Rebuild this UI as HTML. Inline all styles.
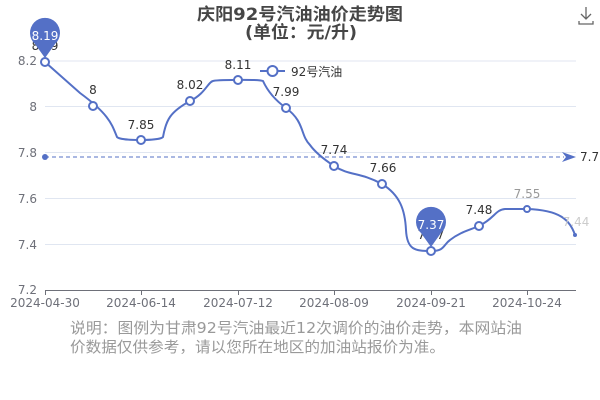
<!DOCTYPE html>
<html><head><meta charset="utf-8"><style>
body{margin:0;background:#fff;}
svg{display:block;font-family:"DejaVu Sans","Noto Sans CJK SC",sans-serif;}
</style></head><body>
<svg width="600" height="400" viewBox="0 0 600 400">
<g stroke="#e0e6f1" stroke-width="1">
<line x1="45" y1="61" x2="576" y2="61"/><line x1="45" y1="106.5" x2="576" y2="106.5"/>
<line x1="45" y1="152.5" x2="576" y2="152.5"/><line x1="45" y1="198.5" x2="576" y2="198.5"/>
<line x1="45" y1="244.5" x2="576" y2="244.5"/>
</g>
<line x1="45" y1="290.5" x2="576" y2="290.5" stroke="#6e7079"/>
<g stroke="#6e7079"><line x1="45.5" y1="290" x2="45.5" y2="295"/><line x1="141.5" y1="290" x2="141.5" y2="295"/><line x1="238.5" y1="290" x2="238.5" y2="295"/><line x1="334.5" y1="290" x2="334.5" y2="295"/><line x1="431.5" y1="290" x2="431.5" y2="295"/><line x1="527.5" y1="290" x2="527.5" y2="295"/></g>
<g fill="#6e7079" font-size="12" text-anchor="end">
<text x="37" y="65">8.2</text><text x="37" y="111">8</text><text x="37" y="157">7.8</text><text x="37" y="203">7.6</text><text x="37" y="249">7.4</text><text x="37" y="294">7.2</text>
</g>
<g fill="#6e7079" font-size="12" text-anchor="middle">
<text x="45" y="307">2024-04-30</text><text x="141" y="307">2024-06-14</text><text x="238" y="307">2024-07-12</text><text x="334" y="307">2024-08-09</text><text x="431" y="307">2024-09-21</text><text x="527" y="307">2024-10-24</text>
</g>
<text x="197" y="20" textLength="206" lengthAdjust="spacingAndGlyphs" font-size="17" font-weight="bold" fill="#464646">庆阳92号汽油油价走势图</text>
<text x="245" y="38" textLength="112" lengthAdjust="spacingAndGlyphs" font-size="17" font-weight="bold" fill="#464646">(单位：元/升)</text>
<line x1="45" y1="157" x2="564" y2="157" stroke="#5470c6" stroke-dasharray="4,3"/>
<circle cx="45" cy="157" r="3" fill="#5470c6"/>
<path d="M562,152 L576,157 L562,162 L566,157Z" fill="#5470c6"/>
<text x="580" y="161" font-size="12" fill="#333">7.7</text>
<path d="M45,62 L80,93 C110,115 112,125 117,137 C120,141 160,141 163,137 C166,120 170,112 190,101 C205,94 208,82 213,81 C215,80 258,79 263,81 C268,92 275,100 286,108 C305,122 300,135 310,145 C315,152 325,160 334,166 C350,176 360,172 382,184 C400,195 405,210 406,230 C407,250 415,251 431,251 C445,251 443,245 450,240 C460,232 470,230 479,226 C495,218 495,210 505,209 L527,209 C560,210 570,220 575,235" fill="none" stroke="#5470c6" stroke-width="2"/>
<g fill="#fff" stroke="#5470c6" stroke-width="2">
<circle cx="45" cy="62" r="4"/><circle cx="93" cy="106" r="4"/><circle cx="141" cy="140" r="4"/><circle cx="190" cy="101" r="4"/><circle cx="238" cy="80" r="4"/><circle cx="286" cy="108" r="4"/><circle cx="334" cy="166" r="4"/><circle cx="382" cy="184" r="4"/><circle cx="431" cy="251" r="4"/><circle cx="479" cy="226" r="4"/><circle cx="527" cy="209" r="3"/>
</g>
<circle cx="575" cy="235" r="2" fill="#5470c6"/>
<g font-size="12" fill="#333" text-anchor="middle">
<text x="45" y="50">8.19</text><text x="93" y="94">8</text><text x="141" y="129">7.85</text><text x="190" y="89">8.02</text><text x="238" y="69">8.11</text><text x="286" y="96">7.99</text><text x="334" y="154">7.74</text><text x="383" y="172">7.66</text><text x="431" y="239">7.37</text><text x="479" y="214">7.48</text>
<text x="527" y="198" fill="#999">7.55</text><text x="576" y="226" fill="#ccc">7.44</text>
</g>
<path d="M45,58 L35,44 A15,15 0 1 1 55,44 Z" fill="#5470c6"/>
<text x="45" y="40" text-anchor="middle" font-size="12" fill="#fff">8.19</text>
<path d="M431,247 L421,233 A15,15 0 1 1 441,233 Z" fill="#5470c6"/>
<text x="431" y="229" text-anchor="middle" font-size="12" fill="#fff">7.37</text>
<line x1="260" y1="71" x2="285" y2="71" stroke="#5470c6" stroke-width="2"/>
<circle cx="272.5" cy="71" r="5" fill="#fff" stroke="#5470c6" stroke-width="2"/>
<text x="291" y="76" font-size="12" fill="#333">92号汽油</text>
<g fill="none" stroke="#666" stroke-width="1.3"><path d="M586,7 V19 M581,14 L586,19 L591,14 M579,21 V24 H593 V21"/></g>
<text x="70" y="333" textLength="452" lengthAdjust="spacingAndGlyphs" font-size="15" fill="#999">说明：图例为甘肃92号汽油最近12次调价的油价走势，本网站油</text>
<text x="70" y="352" textLength="375" lengthAdjust="spacingAndGlyphs" font-size="15" fill="#999">价数据仅供参考，请以您所在地区的加油站报价为准。</text>
</svg>
</body></html>
